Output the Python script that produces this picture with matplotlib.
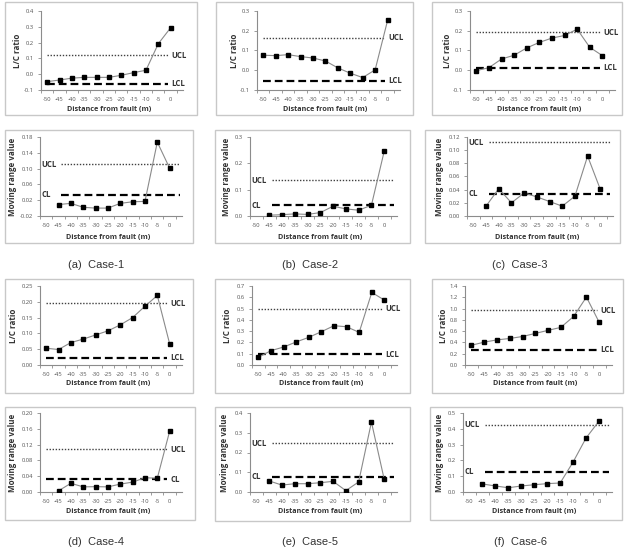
import matplotlib
matplotlib.use("Agg")
import matplotlib.pyplot as plt
from matplotlib.patches import Rectangle

W, H = 628, 550
x_all = [-50, -45, -40, -35, -30, -25, -20, -15, -10, -5, 0]
x_mr = x_all[1:]

# L/C ratio values
lc1 = [-0.047, -0.037, -0.025, -0.020, -0.020, -0.020, -0.007, 0.010, 0.025, 0.193, 0.294]
lc2 = [0.076, 0.074, 0.079, 0.069, 0.062, 0.047, 0.012, -0.015, -0.037, 0.002, 0.252]
lc3 = [-0.002, 0.013, 0.057, 0.076, 0.113, 0.141, 0.163, 0.176, 0.208, 0.116, 0.074]
lc4 = [0.053, 0.049, 0.071, 0.082, 0.095, 0.108, 0.127, 0.150, 0.186, 0.220, 0.067]
lc5 = [0.068, 0.127, 0.159, 0.204, 0.245, 0.295, 0.348, 0.339, 0.289, 0.643, 0.575]
lc6 = [0.350, 0.405, 0.445, 0.470, 0.505, 0.560, 0.614, 0.667, 0.861, 1.204, 0.755]
# Moving range values
mr1 = [0.009, 0.012, 0.002, 0.000, 0.000, 0.012, 0.016, 0.017, 0.167, 0.101]
mr2 = [0.003, 0.005, 0.008, 0.006, 0.013, 0.037, 0.027, 0.022, 0.041, 0.246]
mr3 = [0.015, 0.0415, 0.020, 0.035, 0.029, 0.022, 0.015, 0.030, 0.091, 0.0405]
mr4 = [0.003, 0.022, 0.013, 0.0135, 0.013, 0.020, 0.025, 0.036, 0.035, 0.154]
mr5 = [0.056, 0.035, 0.042, 0.042, 0.047, 0.054, 0.007, 0.051, 0.354, 0.064]
mr6 = [0.051, 0.038, 0.027, 0.038, 0.046, 0.053, 0.057, 0.190, 0.342, 0.449]
# Control limits
lc_ucl = [0.120, 0.165, 0.193, 0.196, 0.499, 0.968]
lc_lcl = [-0.059, -0.052, 0.012, 0.023, 0.097, 0.270]
mr_ucl = [0.111, 0.135, 0.112, 0.108, 0.246, 0.426]
mr_cl = [0.034, 0.041, 0.034, 0.032, 0.076, 0.129]
# y tick labels
lc_yticks = [
    ["-0.1", "0.0", "0.1", "0.2", "0.3", "0.4"],
    ["-0.1", "0.0", "0.1", "0.2", "0.3"],
    ["-0.1", "0.0", "0.1", "0.2", "0.3"],
    ["0.00", "0.05", "0.10", "0.15", "0.20", "0.25"],
    ["0.0", "0.1", "0.2", "0.3", "0.4", "0.5", "0.6", "0.7"],
    ["0.0", "0.2", "0.4", "0.6", "0.8", "1.0", "1.2", "1.4"],
]
mr_yticks = [
    ["-0.02", "0.02", "0.06", "0.10", "0.14", "0.18"],
    ["0.0", "0.1", "0.2", "0.3"],
    ["0.00", "0.02", "0.04", "0.06", "0.08", "0.10", "0.12"],
    ["0.00", "0.04", "0.08", "0.12", "0.16", "0.20"],
    ["0.0", "0.1", "0.2", "0.3", "0.4"],
    ["0.0", "0.1", "0.2", "0.3", "0.4", "0.5"],
]
captions = ["(a)  Case-1", "(b)  Case-2", "(c)  Case-3", "(d)  Case-4", "(e)  Case-5", "(f)  Case-6"]
lc_data = [lc1, lc2, lc3, lc4, lc5, lc6]
mr_data = [mr1, mr2, mr3, mr4, mr5, mr6]

FONT = "Open Sans"
fig = plt.figure(figsize=(W / 100, H / 100), dpi=100)

def fx(x):
    return x / W

def fy(y):
    return 1 - y / H

def box(l, t, r, b):
    fig.patches.append(Rectangle((fx(l), fy(b)), fx(r) - fx(l), fy(t) - fy(b),
                                 transform=fig.transFigure, fill=False,
                                 edgecolor="#c8c8c8", linewidth=1.0))

def panel(ax_px, box_px, xv, yv, ticks, ylabel, ylab_x, xlab_y, hi, lo, hi_lab, lo_lab, left_labels):
    l, t, r, b = ax_px
    box(*box_px)
    ax = fig.add_axes([fx(l), fy(b), fx(r) - fx(l), fy(t) - fy(b)])
    vals = [float(s) for s in ticks]
    ax.set_ylim(vals[0], vals[-1])
    ax.set_xlim(-52.5, 5)
    ax.set_yticks(vals)
    ax.set_yticklabels(ticks)
    ax.set_xticks(x_all)
    ax.set_xticklabels([str(v) for v in x_all])
    ax.set_xticks([v - 2.5 for v in x_all] + [2.5], minor=True)
    for s in ["top", "right"]:
        ax.spines[s].set_visible(False)
    for s in ["left", "bottom"]:
        ax.spines[s].set_color("#8c8c8c")
        ax.spines[s].set_linewidth(0.8)
    ax.tick_params(axis="y", labelsize=4.2, colors="#8c8c8c", labelcolor="#555555",
                   length=2.5, width=0.6, pad=2.5)
    ax.tick_params(axis="x", which="major", labelsize=4.2, labelcolor="#555555",
                   length=0, pad=5)
    ax.tick_params(axis="x", which="minor", length=2.5, width=0.6, colors="#8c8c8c")
    for lab in ax.get_xticklabels() + ax.get_yticklabels():
        lab.set_fontfamily(FONT)
    if left_labels:
        ax.plot([-44, 4], [hi, hi], color="#404040", lw=1.0, linestyle=(0, (1, 1.2)))
        ax.plot([-44, 4], [lo, lo], color="black", lw=1.6, linestyle=(0, (3.5, 1.8)))
        ax.text(-51.8, hi, hi_lab, fontsize=5.6, fontweight="bold", color="#333333",
                ha="left", va="center", family=FONT)
        ax.text(-51.8, lo, lo_lab, fontsize=5.6, fontweight="bold", color="#333333",
                ha="left", va="center", family=FONT)
    else:
        ax.plot([-50, -1], [hi, hi], color="#404040", lw=1.0, linestyle=(0, (1, 1.2)))
        ax.plot([-50, -1], [lo, lo], color="black", lw=1.6, linestyle=(0, (3.5, 1.8)))
        ax.text(0.3, hi, hi_lab, fontsize=5.6, fontweight="bold", color="#333333",
                ha="left", va="center", family=FONT)
        ax.text(0.3, lo, lo_lab, fontsize=5.6, fontweight="bold", color="#333333",
                ha="left", va="center", family=FONT)
    ax.plot(xv, yv, color="#8a8a8a", lw=0.8, marker="s", markersize=2.2,
            markerfacecolor="black", markeredgecolor="black", zorder=5)
    # labels
    x0 = l + (r - l) * (2.5 / 57.5)
    x1 = l + (r - l) * (52.5 / 57.5)
    fig.text(fx((x0 + x1) / 2), fy(xlab_y), "Distance from fault (m)", fontsize=5.2,
             fontweight="bold", color="#333333", ha="center", va="center", family=FONT)
    fig.text(fx(ylab_x), fy((t + b) / 2), ylabel, fontsize=5.8, fontweight="bold",
             color="#333333", ha="center", va="center", rotation=90, family=FONT)
    return ax

# Row layouts
row1_ax = [(41, 11, 183, 90), (257, 11, 400, 90), (470, 11, 615, 90)]
row1_box = [(5, 2, 197, 115), (216, 2, 413, 115), (432, 2, 622, 115)]
row1_ylx = [18, 235, 448]
row2_ax = [(40, 137, 182, 216), (250, 137, 397, 216), (467, 137, 613, 216)]
row2_box = [(5, 130, 193, 243), (215, 130, 410, 243), (425, 130, 620, 243)]
row2_ylx = [13, 227, 440]
row3_ax = [(40, 286, 182, 365), (252, 286, 397, 365), (465, 286, 612, 365)]
row3_box = [(5, 279, 193, 393), (215, 279, 410, 393), (432, 279, 623, 393)]
row3_ylx = [13, 228, 443]
row4_ax = [(40, 413, 182, 492), (250, 413, 397, 492), (463, 413, 612, 492)]
row4_box = [(5, 407, 195, 520), (215, 407, 410, 521), (430, 407, 622, 520)]
row4_ylx = [13, 225, 440]
cap_x = [96, 310, 520]

for i in range(3):
    panel(row1_ax[i], row1_box[i], x_all, lc_data[i], lc_yticks[i], "L/C ratio",
          row1_ylx[i], 110, lc_ucl[i], lc_lcl[i], "UCL", "LCL", False)
    panel(row2_ax[i], row2_box[i], x_mr, mr_data[i], mr_yticks[i], "Moving range value",
          row2_ylx[i], 237, mr_ucl[i], mr_cl[i], "UCL", "CL", True)
    fig.text(fx(cap_x[i]), fy(265), captions[i], fontsize=8, color="#333333",
             ha="center", va="center", family="Liberation Sans")
for i in range(3):
    j = i + 3
    panel(row3_ax[i], row3_box[i], x_all, lc_data[j], lc_yticks[j], "L/C ratio",
          row3_ylx[i], 384, lc_ucl[j], lc_lcl[j], "UCL", "LCL", False)
    panel(row4_ax[i], row4_box[i], x_mr, mr_data[j], mr_yticks[j], "Moving range value",
          row4_ylx[i], 512, mr_ucl[j], mr_cl[j], "UCL", "CL", j != 3)
    fig.text(fx(cap_x[i]), fy(542), captions[j], fontsize=8, color="#333333",
             ha="center", va="center", family="Liberation Sans")

fig.savefig("out.png", dpi=100)
